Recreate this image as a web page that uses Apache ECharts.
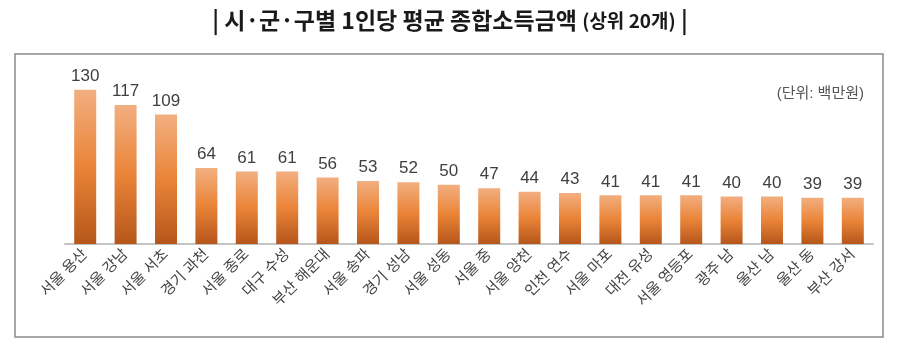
<!DOCTYPE html>
<html><head><meta charset="utf-8">
<script src="https://cdn.jsdelivr.net/npm/echarts@6/dist/echarts.min.js"></script>
<style>html,body{margin:0;padding:0;background:#fff}#c{width:900px;height:354px}</style>
</head><body><div id="c"></div>
<script>
const categories = ['서울 용산','서울 강남','서울 서초','경기 과천','서울 종로','대구 수성','부산 해운대','서울 송파','경기 성남','서울 성동','서울 중','서울 양천','인천 연수','서울 마포','대전 유성','서울 영등포','광주 남','울산 남','울산 동','부산 강서'];
const values = [130,117,109,64,61,61,56,53,52,50,47,44,43,41,41,41,40,40,39,39];
const titleMain = '| 시·군·구별 1인당 평균 종합소득금액 ';
const titleSub = '(상위 20개)';
const titleEnd = ' |';
const unitText = '(단위: 백만원)';

const chart = echarts.init(document.getElementById('c'), null, {renderer:'canvas'});
const fam = '"Liberation Sans", "Noto Sans CJK KR", sans-serif';
chart.setOption({
  backgroundColor:'#fff',
  animation:false,
  title:{
    text:'{a|'+titleMain+'}{b|'+titleSub+'}{a|'+titleEnd+'}',
    left:'center', top:4,
    textStyle:{rich:{
      a:{fontFamily:'"Noto Sans CJK KR"',fontWeight:'bold',fontSize:23,color:'#1a1a1a'},
      b:{fontFamily:'"Noto Sans CJK KR"',fontWeight:'bold',fontSize:19,color:'#1a1a1a'}
    }}
  },
  graphic:[
    {type:'rect',shape:{x:15,y:54,width:868,height:283},style:{fill:'none',stroke:'#8a8a8a',lineWidth:1.5},silent:true},
    {type:'text',right:36,top:86,style:{text:unitText,fontFamily:fam,fontSize:15,fill:'#555'}}
  ],
  grid:{left:65,right:27,top:60,bottom:110,containLabel:false},
  xAxis:{type:'category',data:categories,
    axisLine:{lineStyle:{color:'#c4c4c4',width:2}},
    axisTick:{show:false},
    axisLabel:{rotate:45,interval:0,fontFamily:fam,fontSize:15,color:'#444',margin:8}
  },
  yAxis:{type:'value',min:0,max:155,show:false,splitLine:{show:false}},
  series:[{
    type:'bar',data:values,barWidth:22,
    itemStyle:{color:new echarts.graphic.LinearGradient(0,0,0,1,[
      {offset:0,color:'#F2AF80'},{offset:0.5,color:'#EA8438'},{offset:1,color:'#B5561A'}])},
    label:{show:true,position:'top',distance:5,fontFamily:fam,fontSize:17,color:'#404040'}
  }]
});
</script></body></html>
